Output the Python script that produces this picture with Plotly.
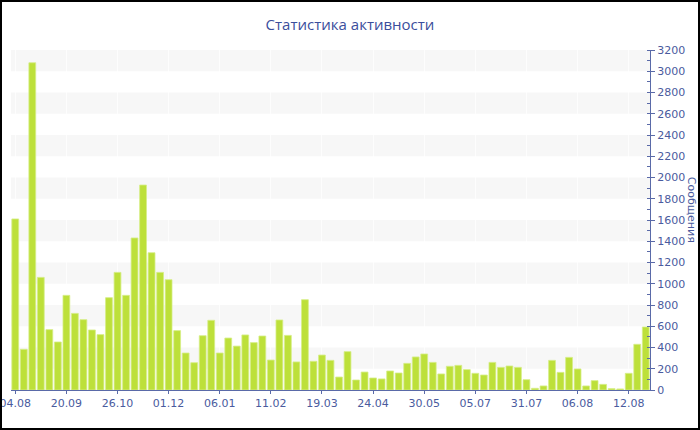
import plotly.graph_objects as go

TITLE = "Статистика активности"
AXIS_TITLE = "Сообщения"

# message counts per period (75 bars)
MESSAGES = [
    1610, 383, 3080, 1060, 568, 452, 891, 721, 662, 565,
    521, 869, 1107, 891, 1431, 1929, 1292, 1107, 1038, 559,
    348, 257, 511, 656, 348, 489, 413, 518, 446, 508,
    282, 659, 514, 264, 850, 270, 329, 279, 122, 361,
    94, 169, 113, 104, 179, 160, 251, 311, 339, 260,
    151, 223, 232, 192, 157, 141, 260, 213, 226, 213,
    97, 16, 38, 279, 166, 307, 198, 38, 88, 53,
    13, 10, 157, 430, 593,
]

# label every sixth bar
TICK_LABELS = [
    "04.08", "20.09", "26.10", "01.12", "06.01", "11.02", "19.03",
    "24.04", "30.05", "05.07", "31.07", "06.08", "12.08",
]
TICK_STEP = 6

Y_MAX = 3200
Y_STEP = 200

BAR_COLOR = "#bde03a"
TEXT_COLOR = "#4a5b9e"
AXIS_COLOR = "#5a6aa8"

W, H = 700, 430
M = dict(l=11, r=50, t=50, b=40)

x = list(range(len(MESSAGES)))
tickvals = [i * TICK_STEP for i in range(len(TICK_LABELS))]

fig = go.Figure(
    go.Bar(
        x=x,
        y=MESSAGES,
        marker=dict(color=BAR_COLOR, line=dict(color="#d6ee86", width=0.8)),
        hovertemplate="%{y}<extra></extra>",
    )
)

# alternating light bands behind the bars
shapes = []
for lo in range(Y_STEP, Y_MAX, 2 * Y_STEP):
    shapes.append(
        dict(
            type="rect", xref="paper", yref="y", x0=0, x1=1, y0=lo, y1=lo + Y_STEP,
            fillcolor="#f7f7f7", line=dict(width=0), layer="below",
        )
    )

# black frame round the whole picture
pw = W - M["l"] - M["r"]
ph = H - M["t"] - M["b"]
shapes.append(
    dict(
        type="rect", xref="paper", yref="paper",
        x0=-(M["l"] - 1) / pw, x1=1 + (M["r"] - 1) / pw,
        y0=-(M["b"] - 1) / ph, y1=1 + (M["t"] - 1) / ph,
        line=dict(color="black", width=2), fillcolor="rgba(0,0,0,0)", layer="above",
    )
)

fig.update_layout(
    width=W,
    height=H,
    margin=dict(M, autoexpand=False),
    paper_bgcolor="white",
    plot_bgcolor="white",
    showlegend=False,
    bargap=0.2,
    font=dict(family="DejaVu Sans, Verdana, sans-serif", size=11, color=TEXT_COLOR),
    title=dict(
        text=TITLE,
        x=0.5,
        xref="container",
        xanchor="center",
        y=1 - 25 / H,
        yanchor="middle",
        font=dict(family="Open Sans, Noto Sans, sans-serif", size=15, color="#3b4e9c"),
    ),
    xaxis=dict(
        range=[-0.5, len(MESSAGES) - 0.5],
        tickvals=tickvals,
        ticktext=TICK_LABELS,
        ticks="outside",
        ticklen=3,
        tickcolor=AXIS_COLOR,
        showline=True,
        linecolor=AXIS_COLOR,
        linewidth=1,
        showgrid=True,
        gridcolor="rgba(255,255,255,0.7)",
        zeroline=False,
        automargin=False,
        ticklabeloverflow="allow",
        tickfont=dict(size=11, color=TEXT_COLOR),
    ),
    yaxis=dict(
        side="right",
        range=[0, Y_MAX],
        dtick=Y_STEP,
        ticks="outside",
        ticklen=4,
        tickcolor=AXIS_COLOR,
        showline=True,
        linecolor=AXIS_COLOR,
        linewidth=1,
        showgrid=False,
        zeroline=False,
        automargin=False,
        ticklabeloverflow="allow",
        minor=dict(dtick=Y_STEP / 2, ticks="inside", ticklen=3, tickcolor=AXIS_COLOR, showgrid=False),
        tickfont=dict(size=11, color=TEXT_COLOR),
    ),
    shapes=shapes,
    annotations=[
        dict(
            text=AXIS_TITLE,
            xref="paper",
            yref="paper",
            x=1 + (691 - W + M["r"]) / pw,
            y=0.53,
            xanchor="center",
            yanchor="middle",
            textangle=90,
            showarrow=False,
            font=dict(size=11, color=TEXT_COLOR),
        )
    ],
)

# the default page puts an 8px margin on <body>; drop it so the figure sits at 0,0
fig.write_html(
    "out.html",
    config={"displayModeBar": False},
    post_script="document.body.style.margin = '0';",
)
